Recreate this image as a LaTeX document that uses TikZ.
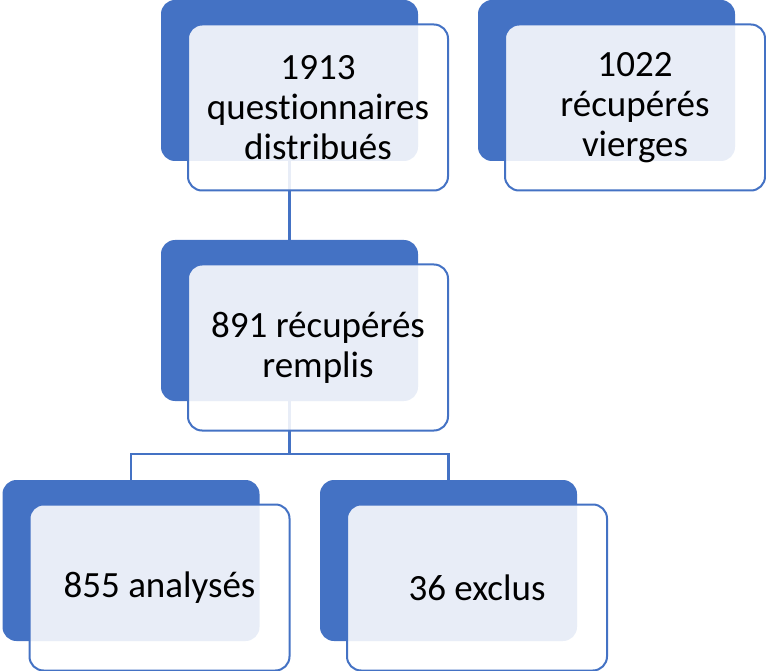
\documentclass[tikz,border=0pt]{standalone}
\usepackage{fontspec}
\setmainfont{Carlito}[Ligatures=NoCommon]
\definecolor{smartblue}{HTML}{4472C4}

\begin{document}
\begin{tikzpicture}[x=1pt, y=-1pt,
    back/.style={fill=smartblue, rounded corners=14pt, minimum width=257pt, minimum height=161pt, inner sep=0pt},
    front/.style={draw=smartblue, line width=2pt, fill=white, fill opacity=0.88, text opacity=1, rounded corners=14pt,
        minimum width=260pt, minimum height=166pt, inner sep=0pt, align=center, font=\fontsize{37}{40}\selectfont},
    link/.style={draw=smartblue, line width=2.2pt}]
    \useasboundingbox (0,0) rectangle (766,671);

    % Back blocks (dark tabs)
    \node[back] (distribB) at (289.5,80.5) {};
    \node[back] (viergesB) at (606.5,80.5) {};
    \node[back] (remplisB) at (289.5,320.5) {};
    \node[back] (analysesB) at (131,560.5) {};
    \node[back] (exclusB) at (448.5,560.5) {};

    % Links
    \coordinate (split) at (289.5,454);
    \draw[link] (distribB.south) -- (remplisB.north);
    \draw[link] (remplisB.south) -- (split);
    \draw[link] (analysesB.north) |- (split) -| (exclusB.north);

    % Front blocks (text)
    \node[front] (distrib) at (318,107.5) {1913\\questionnaires\\distribués};
    \node[front] (vierges) at (635,107.5) {1022\\récupérés\\vierges};
    \node[front] (remplis) at (318,347.5) {891 récupérés\\remplis};
    \node[front] (analyses) at (159.5,587.5) {855 analysés};
    \node[front] (exclus) at (477,587.5) {36 exclus};

\end{tikzpicture}
\end{document}
